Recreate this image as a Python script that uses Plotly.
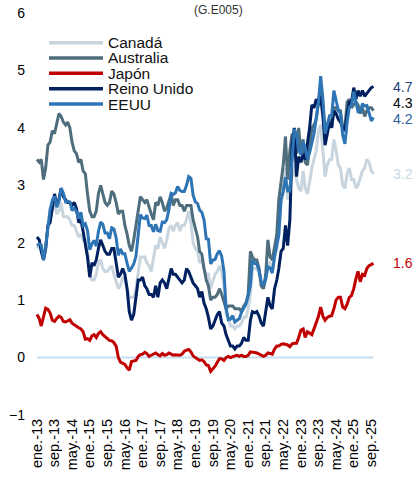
import pandas as pd
import plotly.graph_objects as go

# ---------------- data (monthly, ene-2013 .. oct-2025) ----------------
canada = [
    1.90, 1.95, 1.85, 1.70, 1.85, 2.30, 2.45, 2.60, 2.70, 2.50, 2.55, 2.70,
    2.45, 2.45, 2.45, 2.40, 2.30, 2.30, 2.20, 2.10, 2.15, 2.05, 2.05, 1.85,
    1.45, 1.35, 1.35, 1.45, 1.65, 1.70, 1.55, 1.50, 1.50, 1.55, 1.60, 1.45,
    1.30, 1.20, 1.25, 1.40, 1.35, 1.20, 1.05, 1.05, 1.05, 1.20, 1.50, 1.75,
    1.75, 1.75, 1.65, 1.60, 1.50, 1.70, 1.95, 1.90, 2.10, 2.00, 1.90, 2.05,
    2.25, 2.30, 2.20, 2.30, 2.35, 2.20, 2.30, 2.30, 2.40, 2.55, 2.35, 2.00,
    1.90, 1.85, 1.65, 1.70, 1.55, 1.45, 1.45, 1.20, 1.35, 1.45, 1.50, 1.60,
    1.50, 1.25, 0.75, 0.70, 0.55, 0.55, 0.50, 0.55, 0.55, 0.60, 0.70, 0.70,
    0.85, 1.10, 1.55, 1.55, 1.55, 1.45, 1.25, 1.20, 1.35, 1.65, 1.65, 1.50,
    1.75, 1.90, 2.30, 2.70, 2.85, 3.30, 2.75, 2.95, 3.15, 3.35, 3.10, 2.95,
    2.90, 3.25, 2.95, 2.85, 3.05, 3.30, 3.45, 3.60, 3.95, 4.05, 3.60, 3.15,
    3.35, 3.45, 3.45, 3.80, 3.60, 3.35, 3.30, 3.00, 2.95, 3.20, 3.30, 3.10,
    3.10, 2.95, 3.00, 3.15, 3.25, 3.30, 3.45, 3.40, 3.25, 3.20,
]
australia = [
    3.45, 3.40, 3.45, 3.10, 3.30, 3.70, 3.75, 3.95, 3.90, 4.05, 4.25, 4.20,
    4.10, 4.05, 4.10, 4.00, 3.75, 3.60, 3.55, 3.40, 3.45, 3.25, 3.20, 2.85,
    2.55, 2.45, 2.45, 2.55, 2.85, 3.00, 2.85, 2.70, 2.65, 2.70, 2.90, 2.85,
    2.70, 2.50, 2.55, 2.55, 2.30, 2.15, 1.95, 1.85, 2.05, 2.30, 2.55, 2.80,
    2.75, 2.70, 2.75, 2.60, 2.50, 2.40, 2.70, 2.65, 2.80, 2.70, 2.55, 2.60,
    2.75, 2.85, 2.65, 2.75, 2.75, 2.65, 2.65, 2.55, 2.65, 2.65, 2.65, 2.40,
    2.25, 2.10, 1.85, 1.80, 1.55, 1.35, 1.25, 1.00, 1.05, 1.05, 1.10, 1.20,
    1.10, 0.95, 0.85, 0.90, 0.90, 0.90, 0.85, 0.85, 0.85, 0.80, 0.90, 0.95,
    1.10, 1.85, 1.75, 1.70, 1.70, 1.55, 1.25, 1.20, 1.45, 2.05, 1.75, 1.70,
    1.90, 2.15, 2.75, 3.10, 3.35, 3.85, 3.10, 3.60, 3.90, 3.75, 3.55, 4.00,
    3.55, 3.80, 3.40, 3.35, 3.65, 4.00, 4.05, 4.15, 4.45, 4.75, 4.40, 3.95,
    4.05, 4.15, 4.00, 4.35, 4.35, 4.30, 4.30, 4.00, 4.00, 4.45, 4.50, 4.35,
    4.40, 4.45, 4.40, 4.25, 4.35, 4.20, 4.30, 4.35, 4.35, 4.30,
]
japon = [
    0.75, 0.68, 0.55, 0.70, 0.86, 0.84, 0.78, 0.65, 0.63, 0.68, 0.72, 0.70,
    0.63, 0.62, 0.64, 0.66, 0.60, 0.57, 0.54, 0.52, 0.50, 0.45, 0.32, 0.33,
    0.30, 0.38, 0.40, 0.35, 0.42, 0.45, 0.40, 0.37, 0.33, 0.30, 0.29, 0.26,
    0.20, 0.00, -0.08, -0.10, -0.12, -0.18, -0.22, -0.07, -0.06, -0.05, 0.02, 0.05,
    0.06, 0.09, 0.07, 0.02, 0.04, 0.06, 0.08, 0.05, 0.03, 0.07, 0.04, 0.05,
    0.08, 0.06, 0.04, 0.05, 0.05, 0.04, 0.06, 0.11, 0.13, 0.14, 0.10, 0.03,
    0.00, -0.03, -0.05, -0.04, -0.07, -0.13, -0.14, -0.24, -0.20, -0.15, -0.08, -0.02,
    -0.02, -0.05, 0.00, 0.02, 0.00, 0.02, 0.03, 0.04, 0.02, 0.04, 0.02, 0.02,
    0.04, 0.10, 0.10, 0.09, 0.08, 0.06, 0.03, 0.02, 0.04, 0.08, 0.07, 0.06,
    0.15, 0.20, 0.20, 0.23, 0.24, 0.23, 0.22, 0.19, 0.24, 0.25, 0.25, 0.35,
    0.48, 0.50, 0.35, 0.45, 0.43, 0.40, 0.50, 0.62, 0.72, 0.88, 0.72, 0.65,
    0.70, 0.72, 0.73, 0.85, 1.00, 1.05, 1.05, 0.88, 0.85, 0.93, 1.05, 1.08,
    1.20, 1.38, 1.50, 1.32, 1.45, 1.43, 1.55, 1.60, 1.62, 1.64,
]
reino_unido = [
    2.10, 2.05, 1.85, 1.70, 1.90, 2.30, 2.35, 2.60, 2.85, 2.65, 2.75, 2.95,
    2.80, 2.75, 2.70, 2.70, 2.65, 2.70, 2.60, 2.35, 2.40, 2.20, 2.00, 1.75,
    1.40, 1.65, 1.60, 1.70, 1.90, 2.05, 1.95, 1.85, 1.80, 1.80, 1.90, 1.90,
    1.65, 1.40, 1.45, 1.55, 1.45, 1.20, 0.80, 0.65, 0.75, 1.05, 1.35, 1.35,
    1.40, 1.25, 1.20, 1.10, 1.10, 1.05, 1.25, 1.05, 1.30, 1.35, 1.30, 1.20,
    1.40, 1.55, 1.45, 1.45, 1.40, 1.35, 1.30, 1.35, 1.55, 1.50, 1.40, 1.30,
    1.25, 1.20, 1.05, 1.15, 0.95, 0.85, 0.70, 0.50, 0.55, 0.65, 0.75, 0.80,
    0.60, 0.55, 0.40, 0.30, 0.20, 0.20, 0.15, 0.20, 0.20, 0.25, 0.35, 0.30,
    0.30, 0.65, 0.80, 0.78, 0.80, 0.72, 0.60, 0.55, 0.85, 1.05, 0.90, 0.85,
    1.20, 1.35, 1.55, 1.85, 1.90, 2.30, 1.95, 2.40, 3.70, 4.00, 3.15, 3.50,
    3.40, 3.55, 3.45, 3.70, 4.00, 4.40, 4.35, 4.50, 4.40, 4.55, 4.20, 3.70,
    3.90, 4.10, 4.00, 4.30, 4.25, 4.15, 4.10, 4.00, 3.95, 4.25, 4.45, 4.45,
    4.70, 4.50, 4.65, 4.55, 4.65, 4.55, 4.60, 4.65, 4.70, 4.72,
]
eeuu = [
    1.95, 1.98, 1.96, 1.70, 1.93, 2.30, 2.58, 2.74, 2.81, 2.62, 2.72, 2.95,
    2.86, 2.71, 2.72, 2.71, 2.56, 2.60, 2.54, 2.42, 2.53, 2.30, 2.33, 2.21,
    1.88, 1.98, 2.04, 1.94, 2.20, 2.36, 2.32, 2.17, 2.17, 2.07, 2.26, 2.24,
    2.09, 1.78, 1.89, 1.81, 1.81, 1.64, 1.50, 1.56, 1.63, 1.76, 2.14, 2.49,
    2.43, 2.42, 2.48, 2.30, 2.30, 2.19, 2.32, 2.21, 2.20, 2.36, 2.35, 2.40,
    2.58, 2.86, 2.84, 2.87, 2.98, 2.91, 2.89, 2.89, 3.00, 3.15, 3.12, 2.83,
    2.71, 2.68, 2.57, 2.53, 2.40, 2.07, 2.06, 1.63, 1.70, 1.71, 1.81, 1.86,
    1.76, 1.50, 0.87, 0.66, 0.67, 0.73, 0.62, 0.65, 0.68, 0.79, 0.87, 0.93,
    1.08, 1.26, 1.70, 1.64, 1.62, 1.52, 1.32, 1.25, 1.37, 1.58, 1.56, 1.47,
    1.76, 1.93, 2.13, 2.75, 2.90, 3.14, 2.90, 2.90, 3.52, 3.98, 3.89, 3.62,
    3.53, 3.75, 3.66, 3.46, 3.57, 3.75, 3.90, 4.17, 4.45, 4.90, 4.50, 3.90,
    4.06, 4.21, 4.21, 4.65, 4.48, 4.31, 4.25, 3.87, 3.72, 4.10, 4.36, 4.39,
    4.63, 4.45, 4.28, 4.28, 4.42, 4.38, 4.39, 4.26, 4.12, 4.18,
]

series_names = ["Canadá", "Australia", "Japón", "Reino Unido", "EEUU"]
series_values = [canada, australia, japon, reino_unido, eeuu]
tick_labels = ["ene.-13", "sep.-13", "may.-14", "ene.-15", "sep.-15", "may.-16",
               "ene.-17", "sep.-17", "may.-18", "ene.-19", "sep.-19", "may.-20",
               "ene.-21", "sep.-21", "may.-22", "ene.-23", "sep.-23", "may.-24",
               "ene.-25", "sep.-25"]
subtitle = "(G.E005)"

# ---------------- styling ----------------
colors = ["#c8d5de", "#4e6d7d", "#c00000", "#002060", "#2e75b6"]
label_colors = ["#c5d9e3", "#000000", "#c00000", "#203f7a", "#2f5f9f"]
label_nudge = [0.0, 0.13, 0.0, 0.0, -0.03]   # vertical nudges (value units) to avoid overlap
FONT = "Liberation Sans, Arial, sans-serif"

W, H = 415, 485
ML, MR, MT, MB = 26, 35, 13, 70
PW, PH = W - ML - MR, H - MT - MB


def px(x):
    return (x - ML) / PW


def py(y):
    return (H - MB - y) / PH


dates = pd.date_range("2013-01-01", periods=len(canada), freq="MS")
tick_vals = pd.date_range("2013-01-01", periods=len(tick_labels), freq="8MS")

fig = go.Figure()
# baseline at zero spanning the data
fig.add_trace(go.Scatter(x=[dates[0], dates[-1]], y=[0, 0], mode="lines",
                         line=dict(color="#c6def0", width=2),
                         showlegend=False, hoverinfo="skip"))
for name, vals, col in zip(series_names, series_values, colors):
    fig.add_trace(go.Scatter(x=dates, y=vals, mode="lines", name=name,
                             line=dict(color=col, width=3), showlegend=False))

shapes = []
annotations = []
# custom legend
leg_rows = [42.7, 58.0, 73.3, 88.8, 104]
for name, col, yy in zip(series_names, colors, leg_rows):
    shapes.append(dict(type="line", xref="paper", yref="paper",
                       x0=px(49), x1=px(103), y0=py(yy), y1=py(yy),
                       line=dict(color=col, width=3.5)))
    annotations.append(dict(text=name, xref="paper", yref="paper",
                            x=px(106), y=py(yy), xanchor="left", yanchor="middle",
                            showarrow=False,
                            font=dict(family=FONT, size=15.5, color="#111111")))

# end-value labels
for vals, lc, nd in zip(series_values, label_colors, label_nudge):
    annotations.append(dict(text=f"{vals[-1]:.1f}", xref="paper", yref="y",
                            x=px(391), y=vals[-1] + nd, xanchor="left",
                            yanchor="middle", showarrow=False,
                            font=dict(family=FONT, size=14, color=lc)))

annotations.append(dict(text=subtitle, xref="paper", yref="paper",
                        x=px(218), y=py(10), xanchor="center", yanchor="middle",
                        showarrow=False,
                        font=dict(family=FONT, size=12, color="#333333")))

fig.update_layout(
    width=W, height=H,
    margin=dict(l=ML, r=MR, t=MT, b=MB, autoexpand=False),
    paper_bgcolor="white", plot_bgcolor="white",
    font=dict(family=FONT, size=14, color="#000000"),
    showlegend=False,
    shapes=shapes, annotations=annotations,
    xaxis=dict(type="date", range=["2012-08-02", "2025-12-30"], automargin=False,
               tickmode="array", tickvals=tick_vals, ticktext=tick_labels,
               tickangle=-90, showgrid=False, zeroline=False, showline=False,
               ticks="", tickfont=dict(family=FONT, size=14.5, color="#000000")),
    yaxis=dict(range=[-1, 6], tickmode="array", tickvals=list(range(-1, 7)),
               automargin=False,
               showgrid=False, zeroline=False, showline=False, ticks="",
               tickfont=dict(family=FONT, size=14, color="#000000")),
)

fig.write_html("out.html", config={"displayModeBar": False},
               post_script="document.body.style.margin='0';document.body.style.overflow='hidden';")
